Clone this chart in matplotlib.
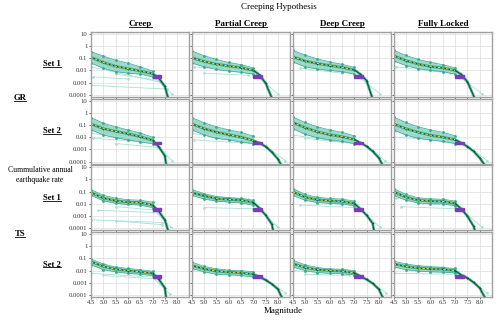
import matplotlib
matplotlib.use("Agg")
import matplotlib.pyplot as plt
from matplotlib.patches import Rectangle
from matplotlib.lines import Line2D

plt.rcParams['font.family'] = ['Liberation Serif', 'DejaVu Serif']

# Panel labels
columns = ['Creep', 'Partial Creep', 'Deep Creep', 'Fully Locked']
row_sets = ['Set 1', 'Set 2', 'Set 1', 'Set 2']
x_ticks = [4.5, 5.0, 5.5, 6.0, 6.5, 7.0, 7.5, 8.0]
y_ticks = [10, 1, 0.1, 0.01, 0.001, 0.0001]
y_ticklabels = ['10', '1', '0.1', '0.01', '0.001', '0.0001']

# Magnitudes where the mean curves were read
mag_grid = [4.5, 5.0, 5.5, 6.0, 6.5, 7.0, 7.25, 7.5, 7.75, 8.0]
band_mags = [4.5, 5.0, 5.5, 6.0, 6.5, 7.0]

# Mean cumulative rates (dark green), one list per column
mean_gr1 = [[0.12, 0.045, 0.022, 0.014, 0.009, 0.0055, 0.0025, 0.0005],
            [0.11, 0.054, 0.033, 0.023, 0.017, 0.010, 0.0044, 0.0009],
            [0.13, 0.06, 0.037, 0.025, 0.018, 0.011, 0.005, 0.0015],
            [0.16, 0.065, 0.033, 0.021, 0.016, 0.010, 0.0047, 0.0012]]
mean_gr2 = [[0.12, 0.05, 0.03, 0.019, 0.011, 0.0056, 0.0017, 0.0003],
            [0.12, 0.05, 0.026, 0.016, 0.010, 0.0053, 0.0033, 0.0017, 0.0006, 0.00016],
            [0.16, 0.06, 0.028, 0.016, 0.011, 0.0065, 0.0035, 0.0018, 0.0007, 0.0002],
            [0.12, 0.05, 0.025, 0.0145, 0.010, 0.0063, 0.0034, 0.0017, 0.0007, 0.0002]]
mean_ts1 = [[0.085, 0.03, 0.018, 0.014, 0.013, 0.008, 0.0025, 0.0005],
            [0.085, 0.045, 0.027, 0.023, 0.02, 0.013, 0.0045, 0.0012, 0.00022],
            [0.10, 0.035, 0.022, 0.018, 0.016, 0.011, 0.0039, 0.0012, 0.00025],
            [0.10, 0.035, 0.02, 0.017, 0.016, 0.011, 0.0039, 0.001, 0.00015]]
mean_ts2 = [[0.054, 0.022, 0.013, 0.01, 0.008, 0.006, 0.002, 0.0004],
            [0.026, 0.014, 0.009, 0.0075, 0.0066, 0.005, 0.0031, 0.0017, 0.0008, 0.0003],
            [0.037, 0.018, 0.012, 0.01, 0.009, 0.0066, 0.0035, 0.0019, 0.0009, 0.0003],
            [0.035, 0.022, 0.016, 0.014, 0.013, 0.01, 0.0044, 0.0025, 0.0011, 0.00038]]
mean_rates = [mean_gr1, mean_gr2, mean_ts1, mean_ts2]

# Magnitude where each mean curve reaches the bottom of the axis
end_mags = [[7.62, 7.73, 7.72, 7.77],
            [7.55, 8.1, 8.12, 8.16],
            [7.63, 7.8, 7.8, 7.8],
            [7.55, 8.15, 8.15, 8.2]]

# Teal band of branch curves (upper / lower edge at band_mags)
band_hi = [[[0.35, 0.15, 0.07, 0.04, 0.02, 0.009], [0.4, 0.16, 0.08, 0.045, 0.03, 0.016],
            [0.45, 0.18, 0.09, 0.05, 0.032, 0.018], [0.45, 0.17, 0.08, 0.045, 0.03, 0.016]],
           [[0.4, 0.14, 0.07, 0.04, 0.022, 0.01], [0.4, 0.15, 0.07, 0.04, 0.025, 0.012],
            [0.45, 0.16, 0.07, 0.04, 0.025, 0.013], [0.45, 0.16, 0.07, 0.04, 0.025, 0.013]],
           [[0.15, 0.05, 0.03, 0.022, 0.02, 0.014], [0.15, 0.07, 0.04, 0.032, 0.028, 0.02],
            [0.18, 0.06, 0.035, 0.028, 0.025, 0.017], [0.18, 0.06, 0.032, 0.026, 0.024, 0.017]],
           [[0.09, 0.035, 0.02, 0.015, 0.012, 0.009], [0.05, 0.022, 0.014, 0.011, 0.01, 0.008],
            [0.07, 0.03, 0.018, 0.014, 0.013, 0.01], [0.06, 0.035, 0.025, 0.02, 0.018, 0.015]]]
band_lo = [[[0.04, 0.015, 0.008, 0.006, 0.005, 0.003], [0.04, 0.02, 0.012, 0.009, 0.007, 0.005],
            [0.05, 0.02, 0.013, 0.01, 0.008, 0.005], [0.06, 0.025, 0.014, 0.01, 0.008, 0.005]],
           [[0.04, 0.015, 0.009, 0.006, 0.004, 0.003], [0.04, 0.015, 0.008, 0.006, 0.004, 0.003],
            [0.05, 0.017, 0.009, 0.006, 0.0045, 0.003], [0.04, 0.015, 0.008, 0.006, 0.0045, 0.003]],
           [[0.05, 0.018, 0.011, 0.009, 0.008, 0.005], [0.05, 0.025, 0.017, 0.014, 0.012, 0.008],
            [0.05, 0.02, 0.013, 0.011, 0.01, 0.007], [0.05, 0.02, 0.012, 0.01, 0.01, 0.007]],
           [[0.03, 0.012, 0.008, 0.006, 0.005, 0.004], [0.015, 0.008, 0.005, 0.0045, 0.004, 0.003],
            [0.02, 0.01, 0.007, 0.006, 0.0055, 0.0045], [0.02, 0.012, 0.009, 0.008, 0.0075, 0.0065]]]

# Stray light-cyan branches: (mag start, rate start, mag end, rate end)
strays = [[[(4.5, 6e-4, 7.6, 3e-4), (4.6, 3e-3, 6.0, 2e-3), (5.5, 5e-3, 7.3, 1.5e-3),
            (4.5, 0.02, 7.4, 1e-3), (7.0, 4e-3, 7.8, 1.2e-4)],
           [(5.0, 6e-3, 6.8, 4e-3), (4.6, 0.02, 7.0, 0.007), (5.5, 0.06, 6.6, 0.025),
            (7.1, 4e-3, 8.0, 1.2e-4)],
           [(5.0, 0.08, 6.5, 0.03), (4.8, 0.015, 6.5, 0.006), (7.1, 4e-3, 8.05, 1.2e-4)],
           [(4.6, 0.02, 6.8, 0.006), (5.0, 0.1, 6.2, 0.04), (7.1, 4e-3, 8.1, 1.2e-4)]],
          [[(4.6, 0.008, 6.8, 0.004), (4.5, 0.02, 7.0, 0.006), (5.5, 0.003, 7.2, 0.0015),
            (7.1, 3e-3, 7.8, 1.2e-4)],
           [(4.5, 0.02, 7.0, 0.005), (4.6, 0.006, 7.0, 0.003), (7.5, 2e-3, 8.3, 1.2e-4)],
           [(4.5, 0.015, 6.5, 0.004), (5.0, 0.008, 7.0, 0.003), (7.5, 2e-3, 8.25, 1.2e-4)],
           [(4.5, 0.01, 7.0, 0.005), (4.6, 0.03, 6.5, 0.01), (7.5, 2e-3, 8.3, 1.2e-4)]],
          [[(4.5, 5e-4, 7.4, 3e-4), (4.8, 3e-3, 7.0, 2e-3), (5.5, 6e-3, 7.2, 3e-3),
            (5.5, 4e-4, 7.4, 2e-4), (7.0, 4e-3, 7.75, 1.2e-4)],
           [(5.0, 5e-3, 7.0, 4e-3), (5.5, 0.04, 6.8, 0.025), (7.3, 3e-3, 8.0, 1.2e-4)],
           [(4.8, 8e-3, 7.0, 5e-3), (7.3, 3e-3, 8.05, 1.2e-4)],
           [(4.6, 0.03, 6.5, 0.02), (4.8, 6e-3, 7.0, 4e-3), (7.3, 3e-3, 8.1, 1.2e-4)]],
          [[(4.5, 0.006, 7.0, 0.003), (5.0, 0.004, 7.3, 0.002), (7.0, 3e-3, 7.7, 1.2e-4)],
           [(4.5, 0.01, 7.0, 0.004), (5.5, 0.012, 7.0, 0.007), (7.5, 2e-3, 8.3, 1.5e-4)],
           [(4.5, 0.01, 7.0, 0.005), (5.0, 0.005, 6.8, 0.004), (7.5, 2e-3, 8.3, 1.5e-4)],
           [(4.5, 0.006, 7.0, 0.005), (5.0, 0.03, 6.5, 0.02), (7.5, 2.5e-3, 8.3, 1.5e-4)]]]

# Observed rate box (purple)
obs_mag = [7.0, 7.35]
obs_rate = [0.0026, 0.0043]

y_floor = 7e-5

fig, axes = plt.subplots(4, 4, figsize=(5, 3.2), dpi=100, sharex=True, sharey=True)
fig.subplots_adjust(left=0.182, right=0.984, top=0.9, bottom=0.072, wspace=0.025, hspace=0.03)

for r in range(4):
    for c in range(4):
        ax = axes[r, c]
        ax.set_yscale('log')
        ax.set_xlim(4.5, 8.5)
        ax.set_ylim(y_floor, 14)
        ax.grid(True, color='#dddddd', lw=0.5)
        ax.set_axisbelow(True)

        for m0, r0, m1, r1 in strays[r][c]:
            ax.plot([m0, m1], [r0, r1], color='#a6e0dc', lw=0.6, marker='s', ms=0.8)

        ax.fill_between(band_mags, band_lo[r][c], band_hi[r][c], color='#5ebfa9', alpha=0.6, lw=0)
        ax.plot(band_mags, band_hi[r][c], color='#3aa991', lw=0.5, marker='s', ms=0.9)
        ax.plot(band_mags, band_lo[r][c], color='#3aa991', lw=0.5, marker='s', ms=0.9)

        vals = mean_rates[r][c]
        mags = mag_grid[:len(vals)] + [end_mags[r][c]]
        rates = vals + [y_floor]
        ax.plot(mags, rates, color='#2e9f82', lw=2.0, alpha=0.75)
        ax.plot(mags, rates, color='#005f2e', lw=0.8, marker='+', ms=2, mew=0.5)
        ax.plot(mag_grid[:6], vals[:6], color='#f4f060', lw=0.6, ls=(0, (3, 2)))

        ax.add_patch(Rectangle((obs_mag[0], obs_rate[0]), obs_mag[1] - obs_mag[0],
                               obs_rate[1] - obs_rate[0], color='#7a3db8', zorder=5))

        for s in ax.spines.values():
            s.set_color('#a0a0a0')
            s.set_linewidth(1.0)
        ax.tick_params(labelsize=4.8, length=1.5, pad=1, width=0.5, colors='#333333')
        ax.set_xticks(x_ticks)
        ax.set_xticklabels(['%.1f' % t for t in x_ticks])
        ax.set_yticks(y_ticks)
        ax.set_yticklabels(y_ticklabels)
        ax.minorticks_off()

fig.text(0.558, 0.978, 'Creeping Hypothesis', ha='center', va='center', fontsize=6.5)
fig.text(0.566, 0.028, 'Magnitude', ha='center', va='center', fontsize=6.5)
fig.text(0.08, 0.452, 'Cummulative annual\nearthquake rate', ha='center', va='center',
         fontsize=5.6, linespacing=1.3)

underlined = []
for c in range(4):
    pos = axes[0, c].get_position()
    underlined.append(fig.text((pos.x0 + pos.x1) / 2, 0.925, columns[c], ha='center',
                               va='center', fontsize=6.5, fontweight='bold'))
for r in range(4):
    pos = axes[r, 0].get_position()
    underlined.append(fig.text(0.104, (pos.y0 + pos.y1) / 2, row_sets[r], ha='center',
                               va='center', fontsize=6.2, fontweight='bold'))
underlined.append(fig.text(0.04, 0.694, 'GR', ha='center', va='center', fontsize=6.2, fontweight='bold'))
underlined.append(fig.text(0.04, 0.269, 'TS', ha='center', va='center', fontsize=6.2, fontweight='bold'))

# underline the bold labels
renderer = fig.canvas.get_renderer()
for t in underlined:
    bb = t.get_window_extent(renderer).transformed(fig.transFigure.inverted())
    fig.add_artist(Line2D([bb.x0, bb.x1], [bb.y0 + 0.004, bb.y0 + 0.004], color='black',
                          lw=0.6, transform=fig.transFigure))

fig.savefig('out.png', dpi=100)
